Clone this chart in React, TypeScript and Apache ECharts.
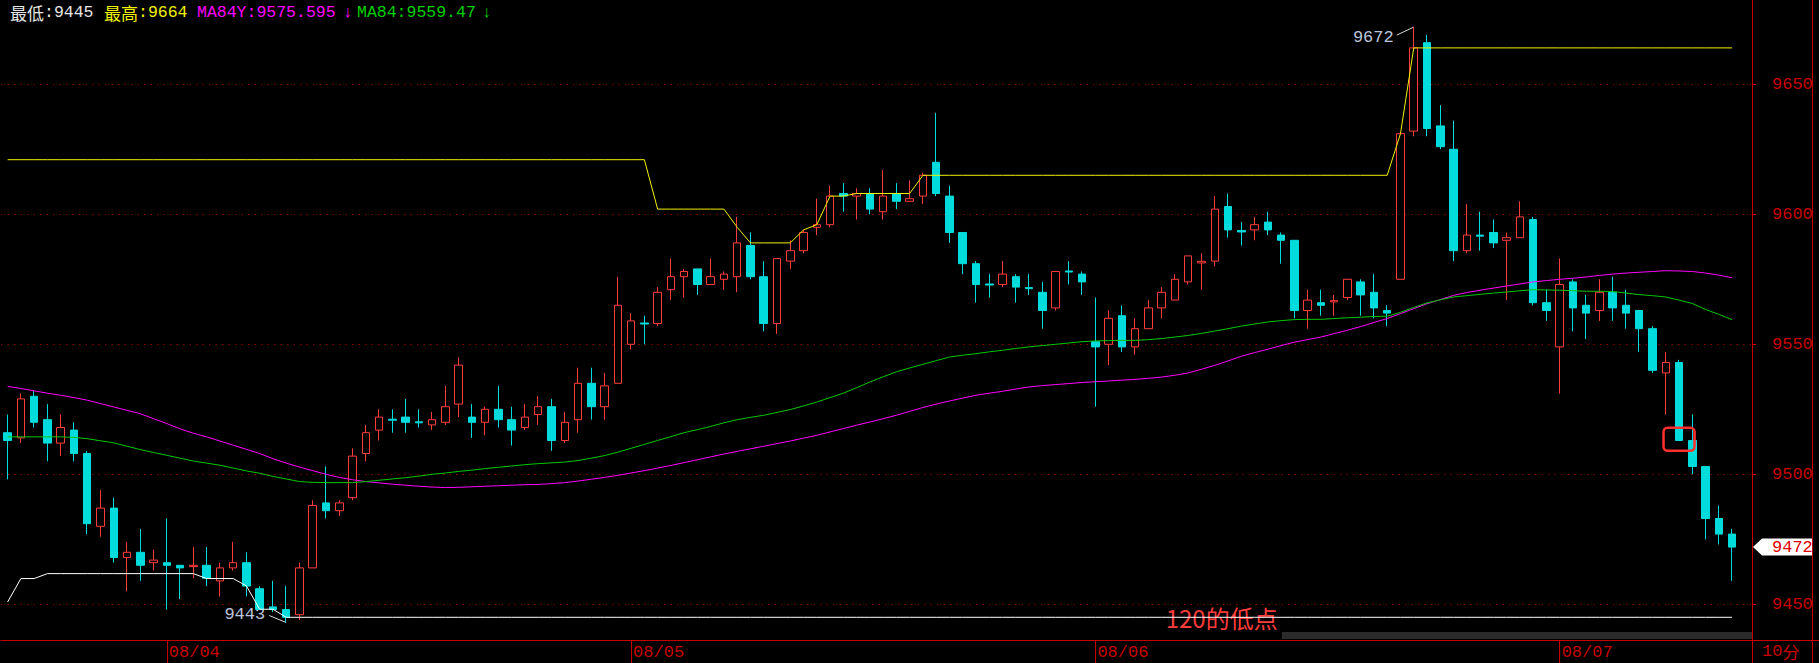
import React, { useEffect, useRef } from 'react';
import * as echarts from 'echarts';

const dayStarts = [12, 47, 82, 117];
const dayLabels = ['08/04', '08/05', '08/06', '08/07'];
const slotCount = 132;
const yTicks = [9450, 9500, 9550, 9600, 9650];

const opens = [
  9516, 9514, 9530, 9521, 9512, 9517, 9508, 9480, 9487, 9468,
  9470, 9466, 9466, 9465, 9464.5, 9465, 9459, 9464, 9466, 9456,
  9449, 9448, 9446, 9464, 9489, 9486, 9491, 9508, 9517, 9521.2,
  9522, 9520.2, 9519, 9520, 9527, 9522, 9520, 9525, 9521, 9518,
  9523, 9526, 9513, 9521, 9535, 9526, 9535, 9550, 9558.2, 9558,
  9571, 9576, 9579, 9573, 9575, 9576, 9588, 9576, 9558, 9582,
  9586, 9595, 9596, 9608, 9607, 9608, 9601, 9608, 9605, 9607,
  9620, 9607, 9593, 9581, 9573.2, 9573, 9576, 9571.8, 9570, 9564,
  9578.2, 9577, 9551, 9550, 9561, 9549, 9556, 9564, 9567, 9574,
  9581.3, 9582, 9603, 9593.8, 9594, 9597, 9592, 9590, 9563, 9566,
  9566.3, 9568, 9574, 9570, 9563, 9575, 9632, 9666, 9634, 9625,
  9586, 9592, 9593, 9590, 9591, 9598, 9566, 9549, 9574, 9565,
  9563, 9570, 9565, 9563, 9556, 9539, 9543, 9513, 9503, 9483,
  9477,
];
const closes = [
  9513, 9529, 9520, 9512, 9518, 9508, 9481, 9487, 9468, 9470,
  9465, 9467, 9465, 9464, 9465, 9460, 9464, 9466, 9457, 9448,
  9448, 9445, 9464, 9488, 9486, 9489, 9507, 9516, 9522, 9520.8,
  9520, 9519.8, 9521, 9526, 9542, 9520, 9525, 9521, 9517, 9522,
  9526, 9513, 9520, 9535, 9526, 9534, 9565, 9559, 9557.8, 9570,
  9576, 9578, 9573, 9576, 9577, 9589, 9576, 9558, 9583, 9586,
  9593, 9596, 9607, 9607, 9608, 9602, 9607, 9605, 9606, 9615,
  9608, 9593, 9581, 9573, 9572.8, 9577, 9572, 9571.4, 9563, 9578,
  9577.8, 9574, 9549, 9560, 9549, 9556, 9564, 9570, 9575, 9584,
  9581.9, 9602, 9594, 9593.2, 9596, 9594, 9590, 9563, 9567, 9565,
  9566.8, 9575, 9569, 9564, 9562, 9631, 9664, 9633, 9626, 9586,
  9592, 9591.6, 9589, 9591, 9599, 9566, 9563, 9573, 9564, 9562,
  9570, 9564, 9562, 9556, 9540, 9543, 9513, 9503, 9483, 9477,
  9472,
];
const lows = [
  9498, 9512, 9518, 9505, 9507, 9505, 9477, 9476, 9466, 9455,
  9459, 9463, 9448, 9452, 9460, 9457, 9453, 9463, 9453, 9448,
  9447, 9443, 9444, 9464, 9483, 9484, 9490, 9505, 9513, 9516,
  9516, 9518, 9517, 9519, 9522, 9514, 9515, 9518, 9511, 9517,
  9519, 9509, 9512, 9516, 9521, 9521, 9535, 9548, 9550, 9557,
  9567, 9568, 9569, 9573, 9571, 9570, 9575, 9555, 9554, 9579,
  9585, 9592, 9595, 9601, 9598, 9600, 9598, 9602, 9605, 9604,
  9607, 9589, 9577, 9566, 9568, 9572, 9566, 9569, 9556, 9563,
  9573, 9569, 9526, 9542, 9547, 9546, 9556, 9560, 9567, 9573,
  9571, 9580, 9591, 9588, 9590, 9592, 9581, 9560, 9556, 9561,
  9561, 9567, 9561, 9560, 9557, 9575, 9630, 9630, 9625, 9582,
  9585, 9586, 9587, 9567, 9591, 9565, 9559, 9531, 9555, 9552,
  9559, 9559, 9556, 9547, 9539, 9523, 9513, 9500, 9475, 9473,
  9459,
];
const highs = [
  9523, 9531, 9532, 9527, 9523, 9520, 9509, 9494, 9491, 9474,
  9479, 9471, 9483, 9465, 9472, 9472, 9466, 9474, 9470, 9457,
  9459, 9457, 9466, 9490, 9503, 9490, 9510, 9519, 9525, 9525,
  9529, 9525, 9524, 9534, 9545, 9527, 9526, 9534, 9526, 9527,
  9530, 9529, 9524, 9541, 9541, 9539, 9576, 9562, 9561, 9572,
  9583, 9579, 9579, 9583, 9578, 9599, 9593, 9582, 9583, 9590,
  9594, 9606, 9611, 9612, 9610, 9610, 9617, 9612, 9613, 9616,
  9639, 9611, 9593, 9582, 9577, 9582, 9577, 9577, 9574, 9578,
  9582, 9578, 9568, 9563, 9565, 9560, 9567, 9572, 9577, 9584,
  9585, 9607, 9608, 9597, 9599, 9601, 9593, 9590, 9571, 9571,
  9569, 9575, 9575, 9577, 9565, 9631, 9672, 9669, 9642, 9636,
  9604, 9601, 9598, 9593, 9605, 9599, 9571, 9583, 9575, 9569,
  9575, 9576, 9571, 9563, 9557, 9547, 9544, 9523, 9503, 9488,
  9479,
];

// 最高 line (yellow)
const highLine = [
  9621, 9621, 9621, 9621, 9621, 9621, 9621, 9621, 9621, 9621,
  9621, 9621, 9621, 9621, 9621, 9621, 9621, 9621, 9621, 9621,
  9621, 9621, 9621, 9621, 9621, 9621, 9621, 9621, 9621, 9621,
  9621, 9621, 9621, 9621, 9621, 9621, 9621, 9621, 9621, 9621,
  9621, 9621, 9621, 9621, 9621, 9621, 9621, 9621, 9621, 9602,
  9602, 9602, 9602, 9602, 9602, 9595, 9589, 9589, 9589, 9589,
  9594, 9596, 9607, 9607, 9608, 9608, 9608, 9608, 9608, 9615,
  9615, 9615, 9615, 9615, 9615, 9615, 9615, 9615, 9615, 9615,
  9615, 9615, 9615, 9615, 9615, 9615, 9615, 9615, 9615, 9615,
  9615, 9615, 9615, 9615, 9615, 9615, 9615, 9615, 9615, 9615,
  9615, 9615, 9615, 9615, 9615, 9631, 9664, 9664, 9664, 9664,
  9664, 9664, 9664, 9664, 9664, 9664, 9664, 9664, 9664, 9664,
  9664, 9664, 9664, 9664, 9664, 9664, 9664, 9664, 9664, 9664,
  9664,
];
// 最低 line (white)
const lowLine = [
  9450.9, 9459.9, 9459.9, 9461.8, 9461.8, 9461.8, 9461.8, 9461.8, 9461.8, 9461.8,
  9461.8, 9461.8, 9461.8, 9461.8, 9461.8, 9459.9, 9459.9, 9459.9, 9457.1, 9448.1,
  9448.1, 9445, 9445, 9445, 9445, 9445, 9445, 9445, 9445, 9445,
  9445, 9445, 9445, 9445, 9445, 9445, 9445, 9445, 9445, 9445,
  9445, 9445, 9445, 9445, 9445, 9445, 9445, 9445, 9445, 9445,
  9445, 9445, 9445, 9445, 9445, 9445, 9445, 9445, 9445, 9445,
  9445, 9445, 9445, 9445, 9445, 9445, 9445, 9445, 9445, 9445,
  9445, 9445, 9445, 9445, 9445, 9445, 9445, 9445, 9445, 9445,
  9445, 9445, 9445, 9445, 9445, 9445, 9445, 9445, 9445, 9445,
  9445, 9445, 9445, 9445, 9445, 9445, 9445, 9445, 9445, 9445,
  9445, 9445, 9445, 9445, 9445, 9445, 9445, 9445, 9445, 9445,
  9445, 9445, 9445, 9445, 9445, 9445, 9445, 9445, 9445, 9445,
  9445, 9445, 9445, 9445, 9445, 9445, 9445, 9445, 9445, 9445,
  9445,
];
const ma84y = [
  9533.8, 9533.0, 9532.1, 9531.2, 9530.4, 9529.5, 9528.5, 9527.2, 9525.9, 9524.6,
  9523.3, 9521.4, 9519.5, 9517.5, 9515.8, 9514.4, 9512.8, 9511.2, 9509.6, 9508.0,
  9506.0, 9504.3, 9502.8, 9501.4, 9500.0, 9498.8, 9497.9, 9497.2, 9496.7, 9496.2,
  9495.8, 9495.4, 9495.1, 9494.9, 9495.0, 9495.2, 9495.4, 9495.6, 9495.8, 9496.0,
  9496.1, 9496.4, 9496.8, 9497.4, 9498.1, 9498.8, 9499.6, 9500.5, 9501.4, 9502.4,
  9503.4, 9504.5, 9505.6, 9506.7, 9507.8, 9508.8, 9509.8, 9510.8, 9511.8, 9512.8,
  9513.9, 9515.0, 9516.3, 9517.6, 9518.9, 9520.1, 9521.4, 9522.7, 9524.2, 9525.7,
  9527.0, 9528.2, 9529.3, 9530.4, 9531.2, 9531.9, 9532.8, 9533.6, 9534.1, 9534.5,
  9534.9, 9535.3, 9535.6, 9535.9, 9536.2, 9536.5, 9536.9, 9537.4, 9538.1, 9539.0,
  9540.4, 9541.9, 9543.6, 9545.4, 9546.8, 9548.1, 9549.5, 9550.8, 9551.8, 9552.8,
  9554.1, 9555.4, 9556.8, 9558.4, 9559.9, 9561.8, 9563.7, 9565.6, 9567.2, 9568.8,
  9569.9, 9570.8, 9571.6, 9572.4, 9573.2, 9574.0, 9574.5, 9575.0, 9575.4, 9575.9,
  9576.5, 9577.0, 9577.4, 9577.7, 9578.0, 9578.3, 9578.2, 9578.0, 9577.4, 9576.6,
  9575.6,
];
const ma84 = [
  9514.4, 9514.4, 9514.4, 9514.4, 9514.4, 9514.2, 9513.7, 9512.9, 9512.1, 9510.8,
  9509.5, 9508.4, 9507.3, 9506.2, 9505.1, 9504.3, 9503.5, 9502.4, 9501.3, 9500.4,
  9499.2, 9498.2, 9497.2, 9496.9, 9496.8, 9496.8, 9496.8, 9497.2, 9497.7, 9498.2,
  9498.7, 9499.3, 9500.0, 9500.5, 9501.1, 9501.6, 9502.2, 9502.7, 9503.2, 9503.7,
  9504.1, 9504.4, 9504.7, 9505.3, 9506.2, 9507.2, 9508.5, 9510.0, 9511.5, 9513.0,
  9514.5, 9516.0, 9517.2, 9518.4, 9519.8, 9521.0, 9521.9, 9522.7, 9523.8, 9524.9,
  9526.3, 9527.8, 9529.5, 9531.2, 9533.3, 9535.5, 9537.5, 9539.4, 9540.9, 9542.3,
  9543.7, 9545.1, 9545.8, 9546.4, 9547.1, 9547.7, 9548.4, 9549.0, 9549.5, 9550.0,
  9550.5, 9551.0, 9551.3, 9551.4, 9551.5, 9551.5, 9551.8, 9552.2, 9552.8, 9553.4,
  9554.2, 9555.1, 9556.0, 9557.0, 9557.8, 9558.6, 9559.1, 9559.5, 9559.6, 9559.6,
  9559.9, 9560.2, 9560.4, 9560.7, 9560.8, 9562.3, 9564.2, 9565.9, 9567.1, 9568.2,
  9568.7, 9569.2, 9569.7, 9570.1, 9570.6, 9571.0, 9570.9, 9570.8, 9570.6, 9570.4,
  9570.4, 9570.3, 9569.7, 9569.1, 9568.7, 9568.2, 9567.0, 9565.7, 9563.4, 9561.5,
  9559.5,
];

// annotations: [index, price]
const noteIdx = [106, 21, 87];
const noteVal = [9672, 9443, 9445];
const noteText = ['9672', '9443', '120的低点'];
const noteKind = ['high', 'low', 'note'];
const boxIdx = [126];
const boxVal = [9513.5];

const headerParts = [
  { cjk: '最低', rest: ':9445', color: '#e6e6e6', x: 10 },
  { cjk: '最高', rest: ':9664', color: '#f2f200', x: 104 },
  { cjk: '', rest: 'MA84Y:9575.595', color: '#ff00ff', x: 197 },
  { cjk: '', rest: '↓', color: '#ff00ff', x: 343 },
  { cjk: '', rest: 'MA84:9559.47', color: '#00d000', x: 357 },
  { cjk: '', rest: '↓', color: '#00d000', x: 482 },
];

const MONO = '"Liberation Mono", "DejaVu Sans Mono", monospace';
const CJK = '"Noto Sans CJK SC", sans-serif';
const RED = '#c80000';

export default function App() {
  const ref = useRef<HTMLDivElement>(null);
  useEffect(() => {
    if (!ref.current) return;
    const chart = echarts.init(ref.current, null, { renderer: 'svg' });
    const categories: string[] = [];
    for (let i = 0; i < slotCount; i++) {
      const k = dayStarts.indexOf(i);
      categories.push(k >= 0 ? dayLabels[k] : String(i));
    }
    const candleData = opens.map((o, i) => [o, closes[i], lows[i], highs[i]]);
    const lastIdx = closes.length - 1;

    const graphic: any[] = headerParts.map((p) => ({
      type: 'text',
      x: p.x,
      y: 12,
      silent: true,
      style: {
        text: (p.cjk ? '{c|' + p.cjk + '}' : '') + '{d|' + p.rest + '}',
        fill: p.color,
        textVerticalAlign: 'middle',
        verticalAlign: 'middle',
        rich: {
          c: { fontFamily: CJK, fontSize: 17, fill: p.color, lineHeight: 24 },
          d: { fontFamily: MONO, fontSize: 16.5, fill: p.color, lineHeight: 24 },
        },
      },
    }));
    graphic.push(
      { type: 'rect', left: 1282, top: 632, silent: true, shape: { width: 470, height: 7 }, style: { fill: '#2b2b2b' }, z: 1 },
      { type: 'line', silent: true, shape: { x1: 1752, y1: 640.5, x2: 1819, y2: 640.5 }, style: { stroke: RED, lineWidth: 1 } },
      { type: 'line', silent: true, shape: { x1: 1752.5, y1: 640, x2: 1752.5, y2: 663 }, style: { stroke: RED, lineWidth: 1 } },
      { type: 'line', silent: true, shape: { x1: 1812.5, y1: 0, x2: 1812.5, y2: 663 }, style: { stroke: RED, lineWidth: 1 } },
      {
        type: 'text', left: 1762, top: 643, silent: true,
        style: {
          text: '{d|10}{c|分}',
          fill: RED,
          rich: {
            d: { fontFamily: MONO, fontSize: 17, fill: RED, lineHeight: 18 },
            c: { fontFamily: CJK, fontSize: 17, fill: RED, lineHeight: 18 },
          },
        },
      }
    );

    const option: any = {
      animation: false,
      backgroundColor: '#000000',
      grid: { left: 1, right: 67, top: 0, bottom: 23 },
      xAxis: {
        type: 'category',
        data: categories,
        boundaryGap: true,
        axisLine: { show: true, lineStyle: { color: RED, width: 1 } },
        axisTick: {
          show: true,
          alignWithLabel: true,
          length: 23,
          interval: (i: number) => dayStarts.includes(i),
          lineStyle: { color: RED },
        },
        axisLabel: {
          show: true,
          interval: (i: number) => dayStarts.includes(i),
          color: RED,
          fontFamily: MONO,
          fontSize: 17,
          align: 'left',
          margin: 4,
          padding: [0, 0, 0, 2],
        },
        splitLine: { show: false },
      },
      yAxis: {
        type: 'value',
        position: 'right',
        min: 9436.27,
        max: 9682.42,
        splitNumber: 5,
        axisLine: { show: true, lineStyle: { color: RED, width: 1 } },
        axisTick: { show: true, length: 4, lineStyle: { color: RED } },
        axisLabel: {
          color: RED,
          fontFamily: MONO,
          fontSize: 17,
          margin: 20,
          showMinLabel: false,
          showMaxLabel: false,
          formatter: (v: number) => (yTicks.includes(Math.round(v * 100) / 100) ? String(v) : ''),
        },
        splitLine: {
          show: true,
          showMinLine: false,
          showMaxLine: false,
          lineStyle: { color: '#8a0000', type: [1.5, 5], width: 1 },
        },
      },
      series: [
        {
          type: 'custom',
          name: 'notes',
          z: 1,
          clip: false,
          silent: true,
          data: noteIdx.map((x, i) => [x, noteVal[i]]),
          renderItem: (params: any, api: any) => {
            const i = params.dataIndex;
            const p = api.coord([api.value(0), api.value(1)]);
            const kind = noteKind[i];
            if (kind === 'high') {
              return {
                type: 'group',
                children: [
                  { type: 'line', shape: { x1: p[0], y1: p[1], x2: p[0] - 17, y2: p[1] + 8 }, style: { stroke: '#d8d8d8', lineWidth: 1 } },
                  { type: 'text', style: { text: noteText[i], x: p[0] - 20, y: p[1] + 10, fill: '#bcc6dc', font: '17px ' + MONO, textAlign: 'right', textVerticalAlign: 'middle', align: 'right', verticalAlign: 'middle' } },
                ],
              };
            }
            if (kind === 'low') {
              return {
                type: 'group',
                children: [
                  { type: 'line', shape: { x1: p[0], y1: p[1], x2: p[0] - 17, y2: p[1] - 7 }, style: { stroke: '#d8d8d8', lineWidth: 1 } },
                  { type: 'text', style: { text: noteText[i], x: p[0] - 21, y: p[1] - 8.5, fill: '#bcc6dc', font: '17px ' + MONO, textAlign: 'right', textVerticalAlign: 'middle', align: 'right', verticalAlign: 'middle' } },
                ],
              };
            }
            return {
              type: 'text',
              style: { text: noteText[i], x: p[0] + 4, y: p[1], fill: '#ff3c3c', font: '24px ' + CJK, textAlign: 'left', textVerticalAlign: 'middle', align: 'left', verticalAlign: 'middle' },
            };
          },
        },
        {
          type: 'candlestick',
          name: 'K',
          z: 2,
          barWidth: 8,
          silent: true,
          data: candleData,
          itemStyle: {
            color: '#000000',
            color0: '#00dcdc',
            borderColor: '#ff3c3c',
            borderColor0: '#00dcdc',
            borderWidth: 1,
          },
        },
        { type: 'line', name: '最高', z: 3, data: highLine, symbol: 'none', silent: true, lineStyle: { color: '#f2f200', width: 1 } },
        { type: 'line', name: '最低', z: 3, data: lowLine, symbol: 'none', silent: true, lineStyle: { color: '#ffffff', width: 1 } },
        { type: 'line', name: 'MA84Y', z: 3, data: ma84y, symbol: 'none', silent: true, lineStyle: { color: '#ff00ff', width: 1 } },
        { type: 'line', name: 'MA84', z: 3, data: ma84, symbol: 'none', silent: true, lineStyle: { color: '#00c800', width: 1 } },
        {
          type: 'custom',
          name: 'overlay',
          z: 5,
          clip: false,
          silent: true,
          data: boxIdx.map((x, i) => [x, boxVal[i]]).concat([[lastIdx, closes[lastIdx]]]),
          renderItem: (params: any, api: any) => {
            const p = api.coord([api.value(0), api.value(1)]);
            if (params.dataIndex < boxIdx.length) {
              return {
                type: 'rect',
                shape: { x: p[0] - 15.5, y: p[1] - 11.5, width: 31, height: 23, r: 4 },
                style: { fill: 'none', stroke: '#ff3030', lineWidth: 2.5 },
              };
            }
            const x0 = params.coordSys.x + params.coordSys.width;
            const y = p[1];
            return {
              type: 'group',
              children: [
                { type: 'polygon', shape: { points: [[x0 + 1, y], [x0 + 10, y - 8.5], [x0 + 60, y - 8.5], [x0 + 60, y + 8.5], [x0 + 10, y + 8.5]] }, style: { fill: '#ffffff' } },
                { type: 'text', style: { text: String(api.value(1)), x: x0 + 20, y: y + 0.5, fill: '#e00000', font: '17px ' + MONO, textAlign: 'left', textVerticalAlign: 'middle', align: 'left', verticalAlign: 'middle' } },
              ],
            };
          },
        },
      ],
      graphic,
    };
    chart.setOption(option);
    return () => chart.dispose();
  }, []);
  return (
    <div
      ref={ref}
      style={{ position: 'fixed', left: 0, top: 0, width: 1819, height: 663, background: '#000' }}
    />
  );
}
